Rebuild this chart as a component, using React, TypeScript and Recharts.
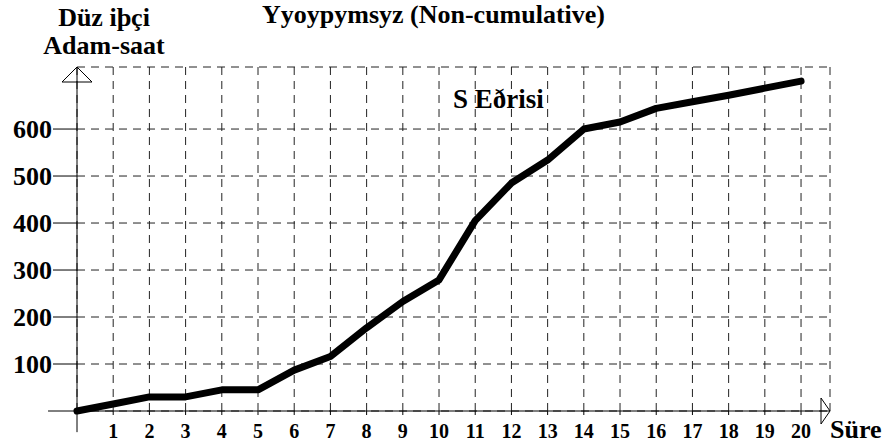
import { LineChart, Line, XAxis, YAxis, CartesianGrid, ReferenceLine, ReferenceDot } from "recharts";

const periods = [0, 1, 2, 3, 4, 5, 6, 7, 8, 9, 10, 11, 12, 13, 14, 15, 16, 17, 18, 19, 20];
const manHours = [0, 15, 30, 30, 45, 45, 87, 116, 177, 233, 279, 405, 485, 534, 600, 615, 644, 658, 672, 687, 702];
const xTicks = [1, 2, 3, 4, 5, 6, 7, 8, 9, 10, 11, 12, 13, 14, 15, 16, 17, 18, 19, 20];
const yTicks = [100, 200, 300, 400, 500, 600];

const data = periods.map((p, i) => ({ p, v: manHours[i] }));

const FONT = "Liberation Serif";
const txt = { fontFamily: FONT, fontWeight: 700, fill: "#000" };

const UpArrow = (props: any) => {
  const { cx, cy } = props;
  return <polygon points={`${cx},${cy} ${cx - 15},${cy + 15} ${cx + 15},${cy + 15}`} fill="none" stroke="#000" strokeWidth={1} />;
};

const RightArrow = (props: any) => {
  const { cx, cy } = props;
  return <polygon points={`${cx},${cy} ${cx - 9},${cy - 13} ${cx - 9},${cy + 13}`} fill="none" stroke="#000" strokeWidth={1} />;
};

export default function App() {
  return (
    <div style={{ position: "absolute", left: 0, top: 0, width: 886, height: 444, background: "#fff", fontFamily: FONT }}>
      <LineChart width={886} height={444} data={data} margin={{ top: 67, right: 56, bottom: 0, left: 0 }} style={{ fontFamily: FONT }}>
        <CartesianGrid strokeDasharray="8 6" stroke="#222" />
        <XAxis
          dataKey="p"
          type="number"
          domain={[0, 20.8]}
          ticks={xTicks}
          height={33}
          axisLine={false}
          tickLine={{ stroke: "#000" }}
          tickSize={4}
          tickMargin={9}
          tick={{ fontSize: 20, ...txt, style: txt }}
          interval={0}
        />
        <YAxis
          type="number"
          domain={[0, 732]}
          ticks={yTicks}
          width={77}
          axisLine={false}
          tickLine={{ stroke: "#000" }}
          tickSize={24}
          tickMargin={1}
          tick={{ fontSize: 26, ...txt, style: txt }}
          interval={0}
        />
        <ReferenceLine segment={[{ x: -0.8, y: 0 }, { x: 20.8, y: 0 }]} stroke="#000" strokeWidth={1} ifOverflow="visible" />
        <ReferenceLine segment={[{ x: 0, y: -45 }, { x: 0, y: 732 }]} stroke="#000" strokeWidth={1} ifOverflow="visible" />
        <ReferenceDot x={0} y={732} shape={UpArrow} ifOverflow="visible" />
        <ReferenceDot x={20.8} y={0} shape={RightArrow} ifOverflow="visible" />
        <Line
          dataKey="v"
          type="linear"
          stroke="#000"
          strokeWidth={7}
          strokeLinejoin="round"
          strokeLinecap="round"
          dot={false}
          activeDot={false}
          isAnimationActive={false}
        />
        <text x={262} y={23} fontSize={26} style={txt}>Yyoypymsyz (Non-cumulative)</text>
        <text x={104} y={26} textAnchor="middle" fontSize={26} style={txt}>Düz iþçi</text>
        <text x={104} y={54} textAnchor="middle" fontSize={26} style={txt}>Adam-saat</text>
        <text x={453} y={108} fontSize={27} style={txt}>S Eðrisi</text>
        <text x={830} y={438} fontSize={26} style={txt}>Süre</text>
      </LineChart>
    </div>
  );
}
